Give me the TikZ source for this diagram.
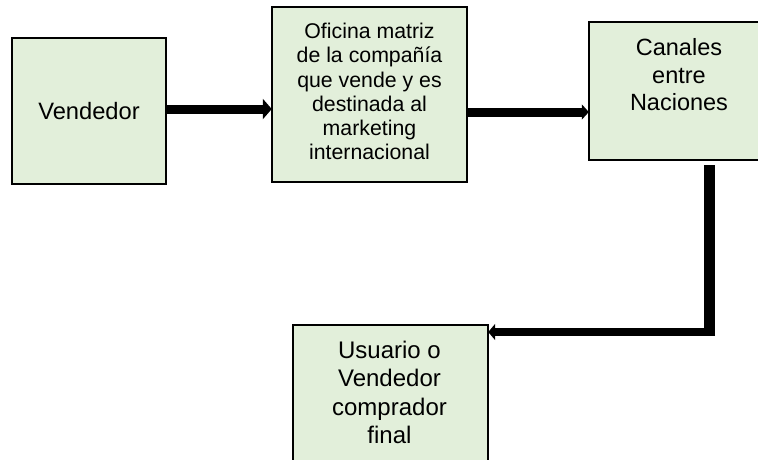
\documentclass[tikz,border=0pt]{standalone}
\usepackage{fontspec}
\setmainfont{Liberation Sans}
\usetikzlibrary{arrows.meta}
\definecolor{boxfill}{HTML}{E2EFDA}
\tikzset{
  box/.style={draw=black, line width=1.6pt, fill=boxfill, inner sep=0pt},
  txt/.style={inner sep=0pt, align=center, text=black},
  conn/.style={draw=black},
}
\begin{document}
\begin{tikzpicture}[x=1pt,y=-1pt]
\useasboundingbox (0,0) rectangle (758,459);
\clip (0,0) rectangle (758,459);
% boxes
\path[box] (12,38) rectangle (166,184);
\node[inner sep=0pt, minimum width=154pt, minimum height=146pt] (b1) at (89,111) {};
\path[box] (272,7) rectangle (467,182);
\node[inner sep=0pt, minimum width=195pt, minimum height=175pt] (b2) at (369.5,94.5) {};
\path[box] (589,22) rectangle (770,160);
\node[inner sep=0pt, minimum width=181pt, minimum height=138pt] (b3) at (679.5,91) {};
\path[box] (293,325) rectangle (488,480);
\node[inner sep=0pt, minimum width=195pt, minimum height=155pt] (b4) at (390.5,402.5) {};
% texts
\node[txt, font=\fontsize{23.7}{27}\selectfont] (t1) at (b1.center) {Vendedor};
\node[txt, anchor=north, font=\fontsize{21.3}{24.2}\selectfont] (t2) at (369.5,23)
  {Oficina matriz\\de la compañía\\que vende y es\\destinada al\\marketing\\internacional};
\node[txt, anchor=north, font=\fontsize{23.5}{27.3}\selectfont] (t3) at (679,38.5)
  {Canales\\entre\\Naciones};
\node[txt, anchor=north, font=\fontsize{24}{28.3}\selectfont] (t4) at (389.5,341)
  {Usuario o\\Vendedor\\comprador\\final};
% connectors
\draw[conn, line width=9pt, -{Triangle[width=20pt,length=9pt]}]
  (b1.east |- 0,109) -- (b2.west |- 0,109);
\draw[conn, line width=9pt, -{Triangle[width=15pt,length=7pt]}]
  (b2.east |- 0,112) -- (b3.west |- 0,112);
\coordinate (c3) at (709.5,165);
\coordinate (elbow) at (709.5,336);
\draw[conn, line width=11pt] (c3) -- (elbow);
\draw[conn, line width=8.5pt, -{Triangle[width=16pt,length=7pt]}]
  (715,332) -- (b4.east |- 0,332);
\end{tikzpicture}
\end{document}
